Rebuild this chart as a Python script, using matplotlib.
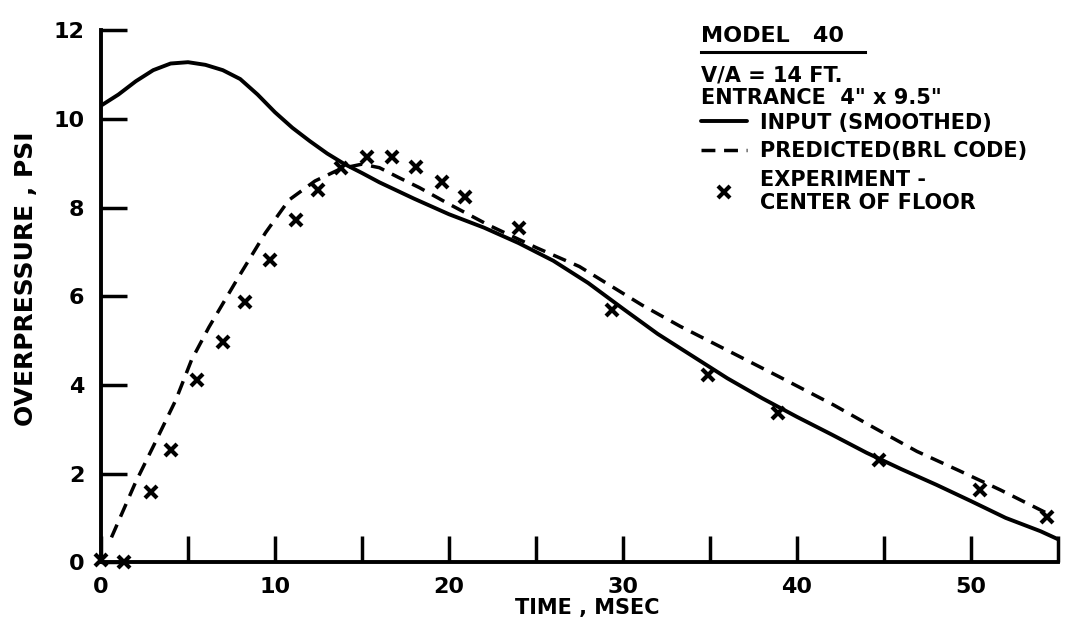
import matplotlib
matplotlib.use('Agg')
import matplotlib.pyplot as plt
from matplotlib.lines import Line2D

# input pressure (smoothed)
input_t = [0, 1, 2, 3, 4, 5, 6, 7, 8, 9, 10, 11, 12, 13, 14, 15, 16, 18, 20,
           22, 24, 26, 28, 30, 32, 34, 36, 38, 40, 42, 44, 46, 48, 50, 52, 54, 55]
input_p = [10.3, 10.55, 10.85, 11.1, 11.25, 11.28, 11.22, 11.1, 10.9, 10.55,
           10.15, 9.8, 9.5, 9.22, 8.98, 8.78, 8.57, 8.2, 7.85, 7.55, 7.2, 6.8,
           6.3, 5.72, 5.15, 4.65, 4.15, 3.7, 3.28, 2.88, 2.47, 2.1, 1.75, 1.38,
           1.0, 0.7, 0.52]

# predicted (BRL code)
pred_t = [0.6, 1.96, 3.1, 4.3, 5.2, 6.2, 7.9, 9.45, 10.8, 12.3, 13.8, 15.0, 16.0,
          17.1, 18.3, 20, 22.3, 25, 27.5, 31.1, 33.3, 36.3, 39, 42.1, 44.5, 46.9,
          49.3, 51.7, 54.4]
pred_p = [0.56, 1.78, 2.69, 3.66, 4.56, 5.3, 6.43, 7.43, 8.17, 8.6, 8.88, 8.98, 8.9,
          8.68, 8.45, 8.08, 7.6, 7.1, 6.67, 5.8, 5.32, 4.72, 4.18, 3.55, 3.02, 2.5,
          2.07, 1.63, 1.1]

# experiment - center of floor
exp_t = [0, 1.3, 2.9, 4.0, 5.5, 7.0, 8.3, 9.7, 11.2, 12.5, 13.8, 15.3, 16.7,
         18.1, 19.6, 20.9, 24.0, 29.4, 34.9, 38.9, 44.7, 50.5, 54.4]
exp_p = [0.05, 0.0, 1.58, 2.53, 4.1, 4.97, 5.87, 6.82, 7.72, 8.4, 8.89, 9.14, 9.14,
         8.92, 8.58, 8.24, 7.54, 5.69, 4.22, 3.36, 2.30, 1.62, 1.02]

x_ticks = list(range(0, 56, 5))
x_labels = ['0', '', '10', '', '20', '', '30', '', '40', '', '50', '']
y_ticks = [0, 2, 4, 6, 8, 10, 12]

plt.rcParams['font.family'] = ['DejaVu Sans']
plt.rcParams['font.weight'] = 'bold'

fig = plt.figure(figsize=(10.91, 6.44), dpi=100)
ax = fig.add_axes([0.0926, 0.127, 0.877, 0.826])

ax.plot(input_t, input_p, color='black', lw=2.8, solid_capstyle='round',
        solid_joinstyle='round', label='INPUT (SMOOTHED)')
ax.plot(pred_t, pred_p, color='black', lw=2.5, dashes=(4, 2.5),
        label='PREDICTED(BRL CODE)')
ax.plot(exp_t, exp_p, ls='none', marker='x', ms=9, mew=3, color='black',
        label='EXPERIMENT -\nCENTER OF FLOOR', clip_on=False)

ax.set_xlim(0, 55)
ax.set_ylim(0, 12)
ax.set_xticks(x_ticks)
ax.set_xticklabels(x_labels)
ax.set_yticks(y_ticks)
ax.spines['top'].set_visible(False)
ax.spines['right'].set_visible(False)
ax.spines['left'].set_linewidth(2.8)
ax.spines['bottom'].set_linewidth(2.8)
ax.tick_params(axis='both', direction='in', length=19, width=2.5,
               labelsize=16)
ax.tick_params(axis='x', pad=11)
ax.tick_params(axis='y', pad=12)
for lab in ax.get_xticklabels() + ax.get_yticklabels():
    lab.set_fontweight('bold')

ax.set_xlabel('TIME , MSEC', fontsize=15, fontweight='bold')
ax.xaxis.set_label_coords(0.508, -0.068)
ax.set_ylabel('OVERPRESSURE , PSI', fontsize=18, fontweight='bold')
ax.yaxis.set_label_coords(-0.066, 0.532)

# header lines of the key
ax.text(0.627, 0.989, 'MODEL   40', transform=ax.transAxes, fontsize=16,
        fontweight='bold', va='center', ha='left')
ax.add_line(Line2D([0.627, 0.798], [0.959, 0.959], transform=ax.transAxes,
                   color='black', lw=2.2, clip_on=False))
ax.text(0.627, 0.915, 'V/A = 14 FT.', transform=ax.transAxes, fontsize=15,
        fontweight='bold', va='center', ha='left')
ax.text(0.627, 0.872, 'ENTRANCE  4" x 9.5"', transform=ax.transAxes,
        fontsize=15, fontweight='bold', va='center', ha='left')

leg = ax.legend(loc='upper left', bbox_to_anchor=(0.627, 0.845), frameon=False,
                handlelength=2.2, handletextpad=0.65, labelspacing=0.42,
                borderaxespad=0, borderpad=0,
                prop={'size': 15, 'weight': 'bold'})
for t in leg.get_texts():
    t.set_linespacing(1.15)

fig.savefig('out.png', dpi=100)
